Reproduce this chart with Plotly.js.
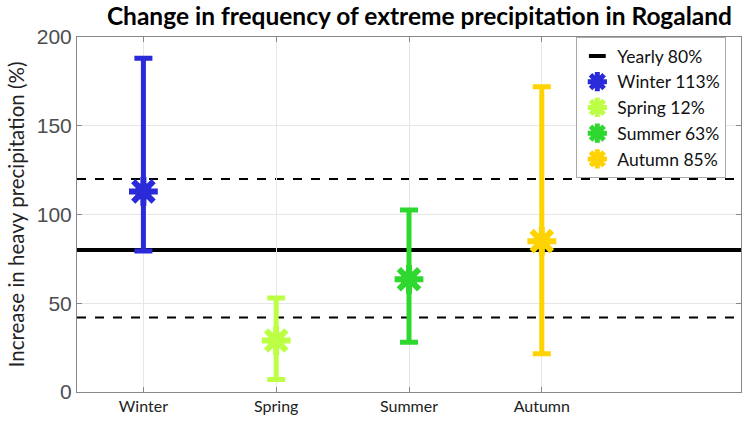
<!DOCTYPE html>
<html>
<head>
<meta charset="utf-8">
<script src="https://cdn.plot.ly/plotly-3.0.1.min.js"></script>
<style>html,body{margin:0;padding:0;background:#fff;}#chart{width:749px;height:421px;}</style>
</head>
<body>
<div id="chart"></div>
<script>
// Data
const seasons = ["Winter", "Spring", "Summer", "Autumn"];
const seasonPos = [1, 2, 3, 4];
const centre = [113, 29, 63.5, 85];
const upper = [188, 53, 102.5, 172];
const lower = [79.5, 7, 28, 21.5];
const legendPct = ["113%", "12%", "63%", "85%"];
const colors = ["#2a2ad9", "#bcff45", "#2fd82f", "#ffd300"];
const yearly = 80;
const yearlyLow = 42;
const yearlyHigh = 120;

const traces = [];
// Yearly legend item (line drawn as shape)
traces.push({
  x: [null], y: [null], type: "scatter", mode: "markers",
  name: "Yearly 80%",
  marker: {symbol: "line-ew-open", size: 12, color: "#000", line: {color: "#000", width: 4}},
  hoverinfo: "skip"
});
seasons.forEach((s, i) => {
  traces.push({
    x: [seasonPos[i]], y: [centre[i]], type: "scatter", mode: "markers",
    showlegend: false, hoverinfo: "skip",
    error_y: {type: "data", symmetric: false,
      array: [upper[i] - centre[i]], arrayminus: [centre[i] - lower[i]],
      color: colors[i], thickness: 5, width: 9},
    marker: {symbol: "circle", size: 17, color: colors[i], line: {width: 0}}
  });
  traces.push({
    x: [seasonPos[i]], y: [centre[i]], type: "scatter", mode: "markers",
    name: s + " " + legendPct[i],
    marker: {symbol: "asterisk-open", size: 24, color: colors[i], line: {color: colors[i], width: 6}}
  });
});

const layout = {
  width: 749, height: 421,
  margin: {l: 77, r: 8, t: 37, b: 29},
  paper_bgcolor: "#fff", plot_bgcolor: "#fff",
  showlegend: true,
  title: {text: "<b>Change in frequency of extreme precipitation in Rogaland</b>",
    font: {family: "Lato, 'Open Sans', sans-serif", size: 24.5, color: "#000"},
    xref: "container", x: 0.56, xanchor: "center", yref: "container", y: 0.96, yanchor: "middle"},
  xaxis: {
    range: [0.5, 5.5], tickvals: seasonPos, ticktext: seasons,
    showgrid: true, gridcolor: "#e6e6e6", gridwidth: 1, zeroline: false,
    showline: true, linecolor: "#888", linewidth: 1, mirror: "ticks",
    ticks: "inside", ticklen: 5, tickcolor: "#888",
    tickfont: {family: "Lato, sans-serif", size: 16, color: "#222"}
  },
  yaxis: {
    range: [0, 200], tickvals: [0, 50, 100, 150, 200],
    showgrid: true, gridcolor: "#e6e6e6", gridwidth: 1, zeroline: false,
    showline: true, linecolor: "#888", linewidth: 1, mirror: "ticks",
    ticks: "inside", ticklen: 5, tickcolor: "#888",
    tickfont: {family: "'Liberation Sans', Arial, sans-serif", size: 21, color: "#4d4d4d"},
    title: {text: "Increase in heavy precipitation (%)", standoff: 6,
      font: {family: "Lato, sans-serif", size: 20.5, color: "#222"}}
  },
  legend: {
    x: 0.752, xanchor: "left", y: 1, yanchor: "top",
    bgcolor: "#fff", bordercolor: "#aaa", borderwidth: 1,
    font: {family: "Lato, sans-serif", size: 17.5, color: "#111"},
    tracegroupgap: 0, itemsizing: "trace"
  },
  shapes: [
    {type: "line", xref: "paper", x0: 0, x1: 1, yref: "y", y0: yearly, y1: yearly,
     line: {color: "#000", width: 4}, layer: "below"},
    {type: "line", xref: "paper", x0: 0, x1: 1, yref: "y", y0: yearlyHigh, y1: yearlyHigh,
     line: {color: "#000", width: 2, dash: "dash"}, layer: "below"},
    {type: "line", xref: "paper", x0: 0, x1: 1, yref: "y", y0: yearlyLow, y1: yearlyLow,
     line: {color: "#000", width: 2, dash: "dash"}, layer: "below"}
  ]
};

Plotly.newPlot("chart", traces, layout, {displayModeBar: false, staticPlot: true});
</script>
</body>
</html>
